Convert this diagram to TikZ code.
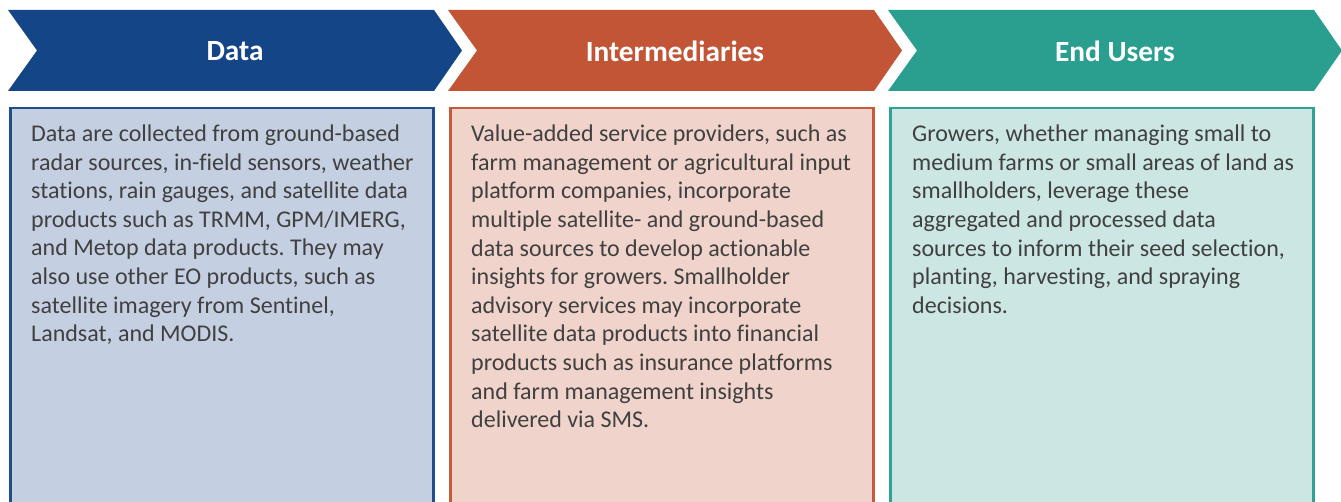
\documentclass[tikz,border=0pt]{standalone}
\usepackage{fontspec}
\setmainfont[Ligatures={NoCommon,NoRare,NoContextual}]{Carlito}
\definecolor{cblue}{HTML}{144586}
\definecolor{corange}{HTML}{C15536}
\definecolor{cteal}{HTML}{2A9F90}
\definecolor{lblue}{HTML}{C4D0E2}
\definecolor{lorange}{HTML}{F0D3CB}
\definecolor{lteal}{HTML}{CBE6E3}
\definecolor{bblue}{HTML}{1F4E8C}
\definecolor{borange}{HTML}{C65A3C}
\definecolor{bteal}{HTML}{2FA393}
\definecolor{txtgray}{HTML}{404040}
\frenchspacing
\begin{document}
\begin{tikzpicture}[x=1pt,y=-1pt]
\useasboundingbox (0,0) rectangle (1341,502);
\clip (0,0) rectangle (1341,502);
\tikzset{
  headtext/.style={text=white, inner sep=0pt, font=\fontsize{29.3}{34}\selectfont\bfseries},
  panel/.style={line width=2.7pt},
  bodytext/.style={anchor=north west, inner sep=0pt, align=left, text=txtgray,
    font=\fontsize{24}{28.6}\selectfont},
}
% chevrons
\fill[cblue]   (8,10) -- (434,10) -- (462,50.5) -- (434,91) -- (8,91) -- (37,50.5) -- cycle;
\fill[corange] (448,10) -- (874,10) -- (902,50.5) -- (874,91) -- (448,91) -- (477,50.5) -- cycle;
\fill[cteal]   (888,10) -- (1314,10) -- (1342,50.5) -- (1314,91) -- (888,91) -- (917,50.5) -- cycle;
\node[headtext] (hdata) at (235,51) {Data};
\node[headtext] (hinter) at (675,51) {Intermediaries};
\node[headtext] (hend) at (1115,51) {End Users};
% panels
\draw[panel, draw=bblue, fill=lblue]     (10.5,108) rectangle (433.5,520);
\draw[panel, draw=borange, fill=lorange] (450.5,108) rectangle (873.5,520);
\draw[panel, draw=bteal, fill=lteal]     (890.5,108) rectangle (1313.5,520);
\node[bodytext] (tdata) at (31,121.2) {\strut Data are collected from ground-based\\
radar sources, in-field sensors, weather\\
stations, rain gauges, and satellite data\\
products such as TRMM, GPM/IMERG,\\
and Metop data products. They may\\
also use other EO products, such as\\
satellite imagery from Sentinel,\\
Landsat, and MODIS.};
\node[bodytext] (tinter) at (471,121.5) {\strut Value-added service providers, such as\\
farm management or agricultural input\\
platform companies, incorporate\\
multiple satellite- and ground-based\\
data sources to develop actionable\\
insights for growers. Smallholder\\
advisory services may incorporate\\
satellite data products into financial\\
products such as insurance platforms\\
and farm management insights\\
delivered via SMS.};
\node[bodytext] (tend) at (912,121.5) {\strut Growers, whether managing small to\\
medium farms or small areas of land as\\
smallholders, leverage these\\
aggregated and processed data\\
sources to inform their seed selection,\\
planting, harvesting, and spraying\\
decisions.};
\end{tikzpicture}
\end{document}
